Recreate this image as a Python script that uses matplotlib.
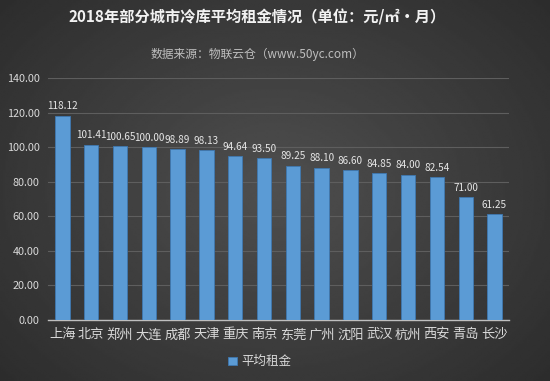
"""Average cold-storage rent by city, 2018 (dark gradient bar chart)."""

import matplotlib
matplotlib.use("Agg")
import matplotlib.pyplot as plt
import numpy as np

plt.rcParams["font.family"] = ["Noto Sans CJK SC", "DejaVu Sans"]

cities = ["上海", "北京", "郑州", "大连", "成都", "天津", "重庆", "南京",
          "东莞", "广州", "沈阳", "武汉", "杭州", "西安", "青岛", "长沙"]
avg_rent = [118.12, 101.41, 100.65, 100.00, 98.89, 98.13, 94.64, 93.50,
            89.25, 88.10, 86.60, 84.85, 84.00, 82.54, 71.00, 61.25]
y_ticks = [0, 20, 40, 60, 80, 100, 120, 140]

title = "2018年部分城市冷库平均租金情况（单位：元/㎡·月）"
subtitle = "数据来源：物联云仓（www.50yc.com）"
series_name = "平均租金"

fig = plt.figure(figsize=(5.5, 3.81), dpi=100)

# radial gradient background
bg = fig.add_axes([0, 0, 1, 1], zorder=-10)
yy, xx = np.mgrid[-1:1:200j, -1:1:300j]
rr = np.sqrt(xx ** 2 + (yy * 0.9) ** 2)
bg.imshow(0.31 - 0.14 * np.clip(rr, 0, 1.4) / 1.4, cmap="gray", vmin=0, vmax=1,
          aspect="auto", extent=[0, 1, 0, 1], interpolation="bilinear")
bg.set_axis_off()

ax = fig.add_axes([0.0873, 0.160, 0.838, 0.635])
ax.set_facecolor("none")
x = np.arange(len(cities))
bars = ax.bar(x, avg_rent, width=0.5, color="#5b9bd5", edgecolor="#3f78b0",
              linewidth=0.6, label=series_name, zorder=3)
for xi, v in zip(x, avg_rent):
    ax.text(xi, v + 5.5, f"{v:.2f}", ha="center", va="center", fontsize=7.2,
            color="#e6e6e6")

ax.set_xlim(-0.5, len(cities) - 0.5)
ax.set_ylim(0, 140)
ax.set_yticks(y_ticks)
ax.set_yticklabels([f"{t:.2f}" for t in y_ticks])
ax.set_xticks(x)
ax.set_xticklabels(cities)
ax.tick_params(axis="y", length=0, labelsize=7.8, colors="#d9d9d9", pad=6)
ax.tick_params(axis="x", length=0, labelsize=9.5, colors="#d9d9d9", pad=6)
ax.yaxis.grid(True, color="#5e5e5e", linewidth=0.8, zorder=0)
for side in ["top", "right", "left"]:
    ax.spines[side].set_visible(False)
ax.spines["bottom"].set_color("#bfbfbf")
ax.spines["bottom"].set_linewidth(1.0)

fig.text(0.468, 0.955, title, ha="center", va="center", fontsize=11,
         fontweight="bold", color="#f2f2f2")
fig.text(0.468, 0.858, subtitle, ha="center", va="center", fontsize=8.5,
         color="#bfbfbf")

leg = fig.legend(handles=[bars], labels=[series_name], loc="center",
                 bbox_to_anchor=(0.472, 0.05), frameon=False, fontsize=9,
                 handlelength=0.7, handleheight=0.7, handletextpad=0.3)
for t in leg.get_texts():
    t.set_color("#d9d9d9")

fig.savefig("out.png", dpi=100)
